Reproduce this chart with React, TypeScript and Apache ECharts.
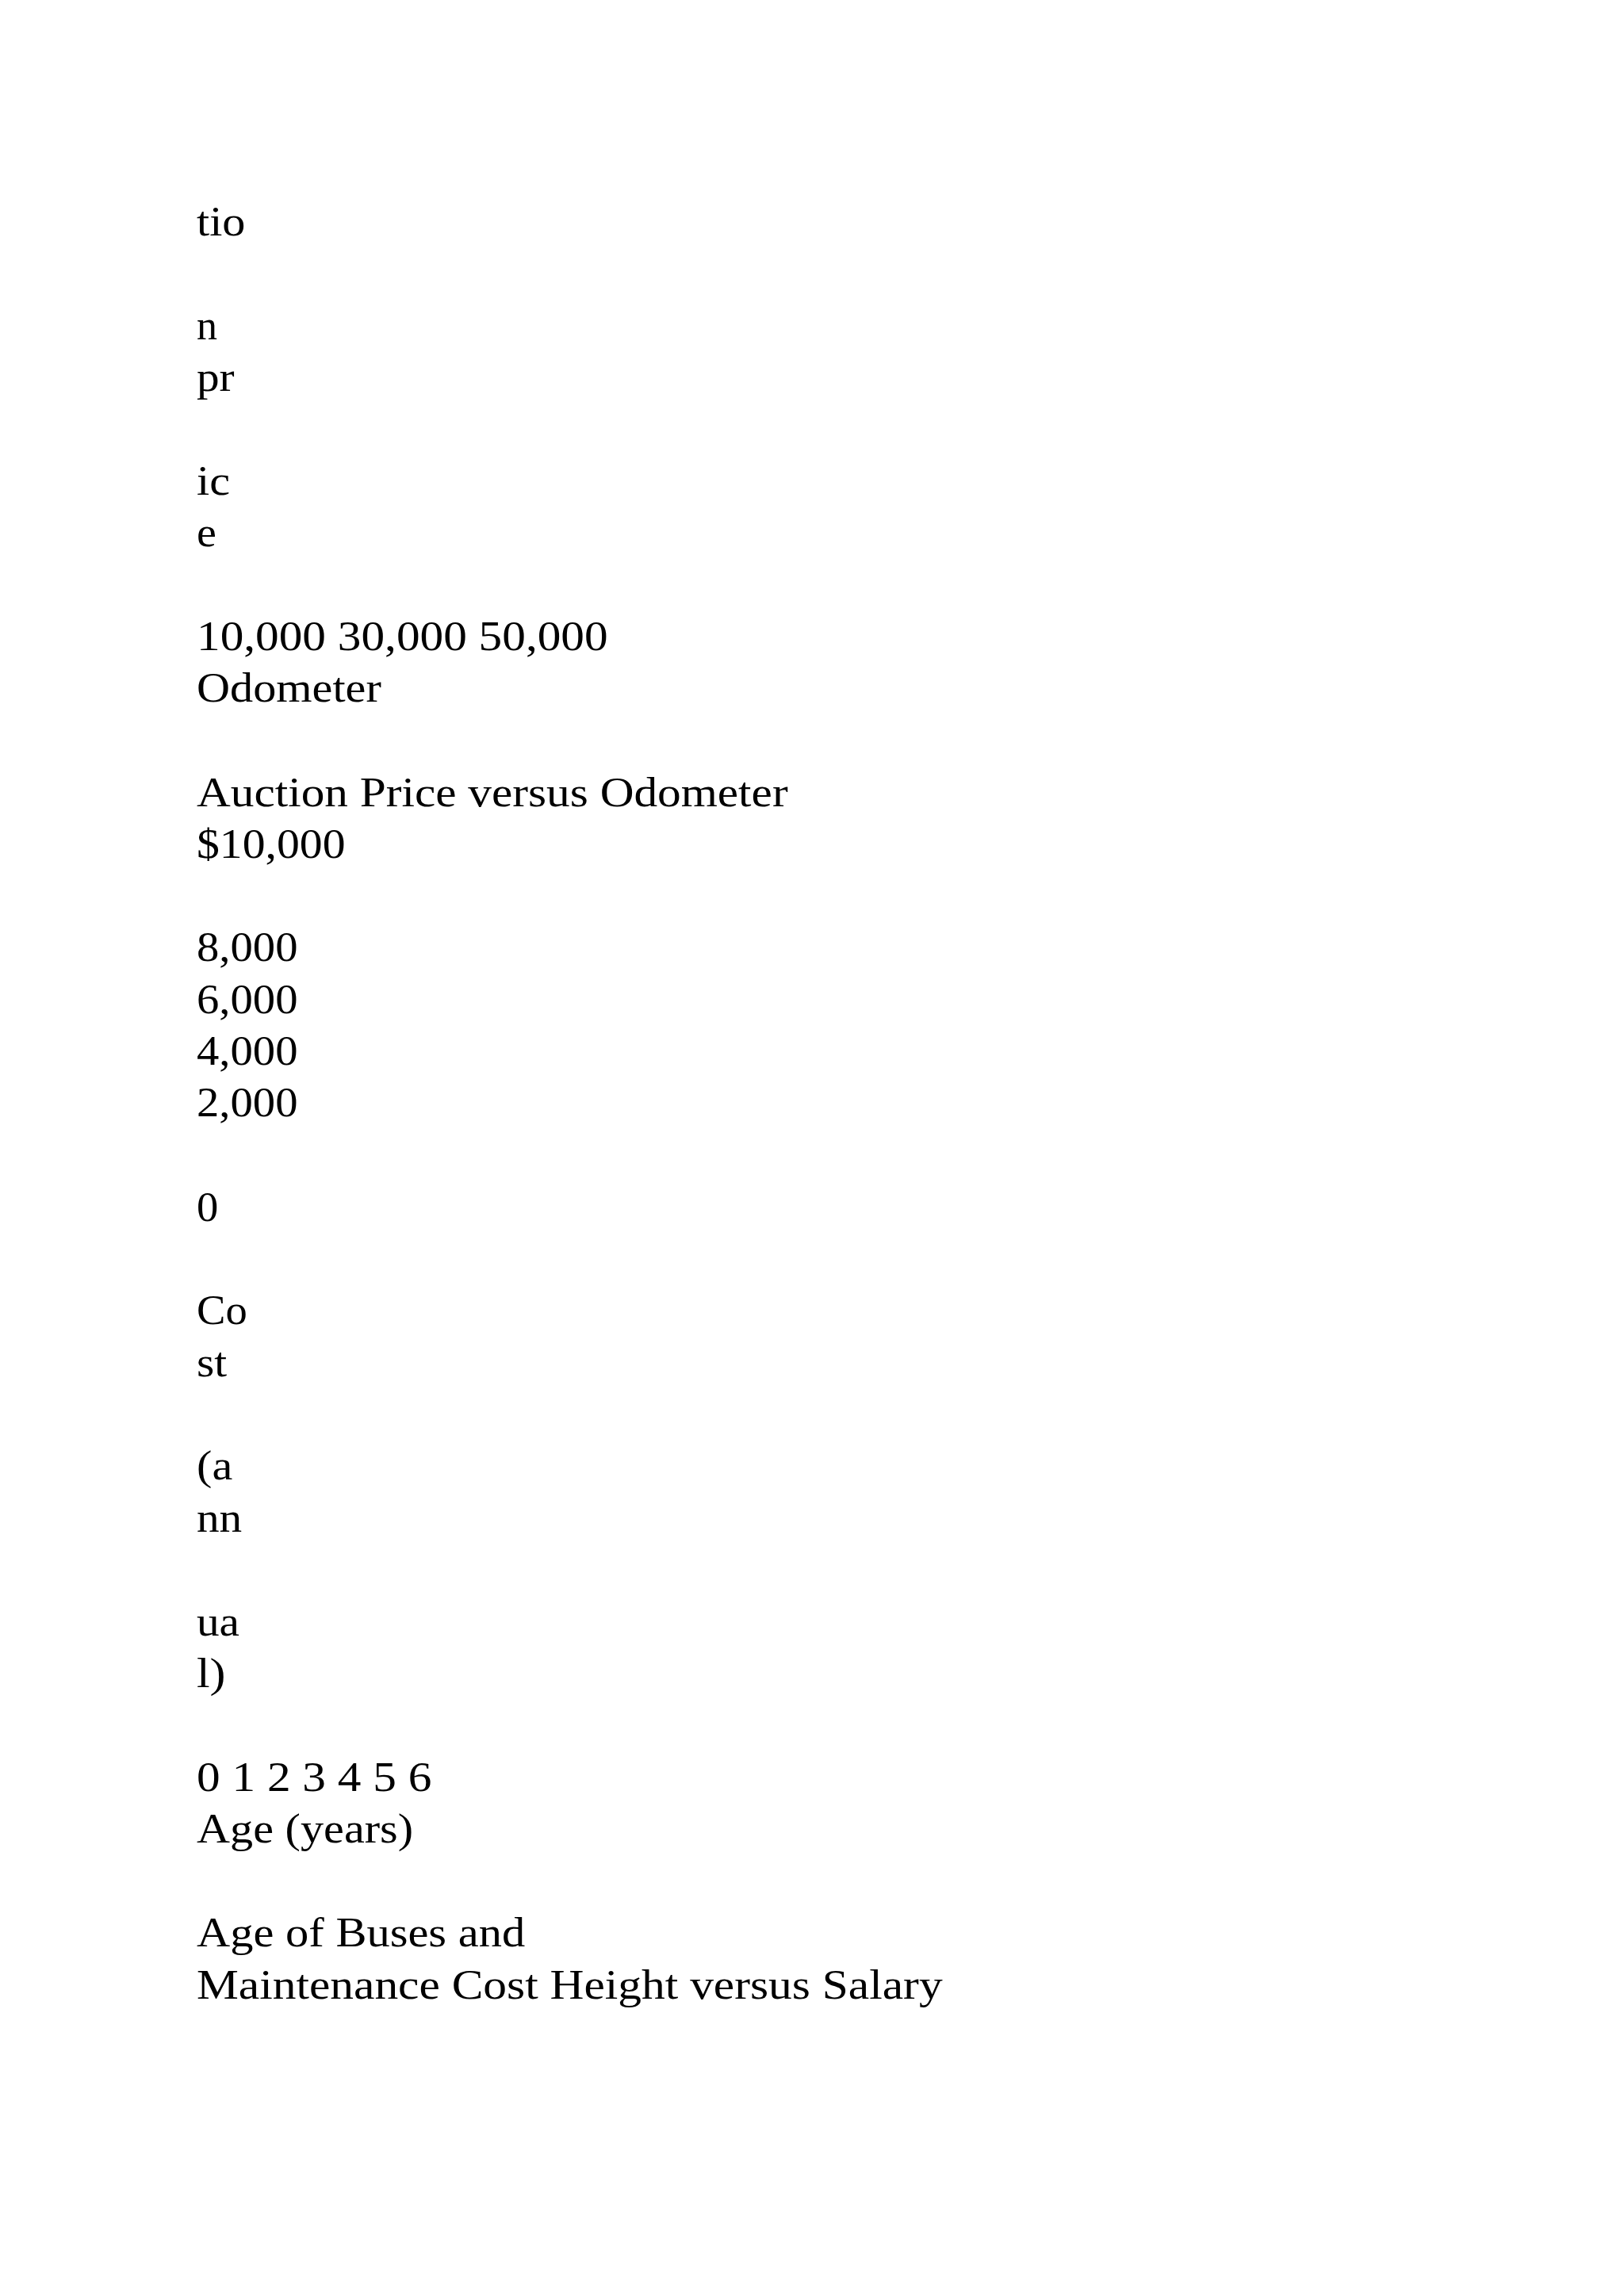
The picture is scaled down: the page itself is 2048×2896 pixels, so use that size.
import * as echarts from 'echarts';
import { useEffect, useRef } from 'react';

// text fragments as they appear on the page
const priceFragments = ['tio', 'n', 'pr', 'ic', 'e'];
const odometerTicks = ['10,000', '30,000', '50,000'];
const odometerTitle = 'Odometer';
const auctionTitle = 'Auction Price versus Odometer';
const priceTicks = ['$10,000', '8,000', '6,000', '4,000', '2,000', '0'];
const costFragments = ['Co', 'st', '(a', 'nn', 'ua', 'l)'];
const ageTicks = [0, 1, 2, 3, 4, 5, 6];
const ageTitle = 'Age (years)';
const busesTitle = ['Age of Buses and', 'Maintenance Cost'];
const salaryTitle = 'Height versus Salary';

const FONT_SIZE = 52;
const FIRST_BASELINE = 297;
const LINE_STEP = 65.4;
const LEFT = 248;
const PAGE_OFFSET = 8; // body margin

type Line = { text: string; row: number; sx: number };

const lines: Line[] = [
  { text: priceFragments[0], row: 0, sx: 1.12 },
  { text: priceFragments[1], row: 2, sx: 1.0 },
  { text: priceFragments[2], row: 3, sx: 1.1 },
  { text: priceFragments[3], row: 5, sx: 1.12 },
  { text: priceFragments[4], row: 6, sx: 1.08 },
  { text: odometerTicks.join(' '), row: 8, sx: 1.14 },
  { text: odometerTitle, row: 9, sx: 1.12 },
  { text: auctionTitle, row: 11, sx: 1.14 },
  { text: priceTicks[0], row: 12, sx: 1.11 },
  { text: priceTicks[1], row: 14, sx: 1.09 },
  { text: priceTicks[2], row: 15, sx: 1.09 },
  { text: priceTicks[3], row: 16, sx: 1.09 },
  { text: priceTicks[4], row: 17, sx: 1.09 },
  { text: priceTicks[5], row: 19, sx: 1.05 },
  { text: costFragments[0], row: 21, sx: 1.05 },
  { text: costFragments[1], row: 22, sx: 1.1 },
  { text: costFragments[2], row: 24, sx: 1.12 },
  { text: costFragments[3], row: 25, sx: 1.1 },
  { text: costFragments[4], row: 27, sx: 1.1 },
  { text: costFragments[5], row: 28, sx: 1.15 },
  { text: ageTicks.join(' '), row: 30, sx: 1.14 },
  { text: ageTitle, row: 31, sx: 1.12 },
  { text: busesTitle[0], row: 33, sx: 1.125 },
  { text: busesTitle[1] + ' ' + salaryTitle, row: 34, sx: 1.143 },
];

export default function App() {
  const chartRef = useRef<HTMLDivElement>(null);

  useEffect(() => {
    if (!chartRef.current) return;
    const chart = echarts.init(chartRef.current, null, { renderer: 'svg' });

    const elements = lines.map((l) => {
      const baseline = FIRST_BASELINE + l.row * LINE_STEP;
      return {
        type: 'text',
        silent: true,
        x: LEFT - PAGE_OFFSET,
        y: baseline - PAGE_OFFSET - FONT_SIZE * 0.3375,
        scaleX: l.sx,
        style: {
          text: l.text,
          x: 0,
          y: 0,
          fill: '#000',
          fontSize: FONT_SIZE,
          fontFamily: 'Liberation Serif',
          textAlign: 'left',
          textVerticalAlign: 'middle',
        },
      };
    });

    chart.setOption({
      animation: false,
      backgroundColor: '#fff',
      graphic: { elements },
    });

    return () => {
      chart.dispose();
    };
  }, []);

  return <div ref={chartRef} style={{ width: 2032, height: 2880 }}></div>;
}
